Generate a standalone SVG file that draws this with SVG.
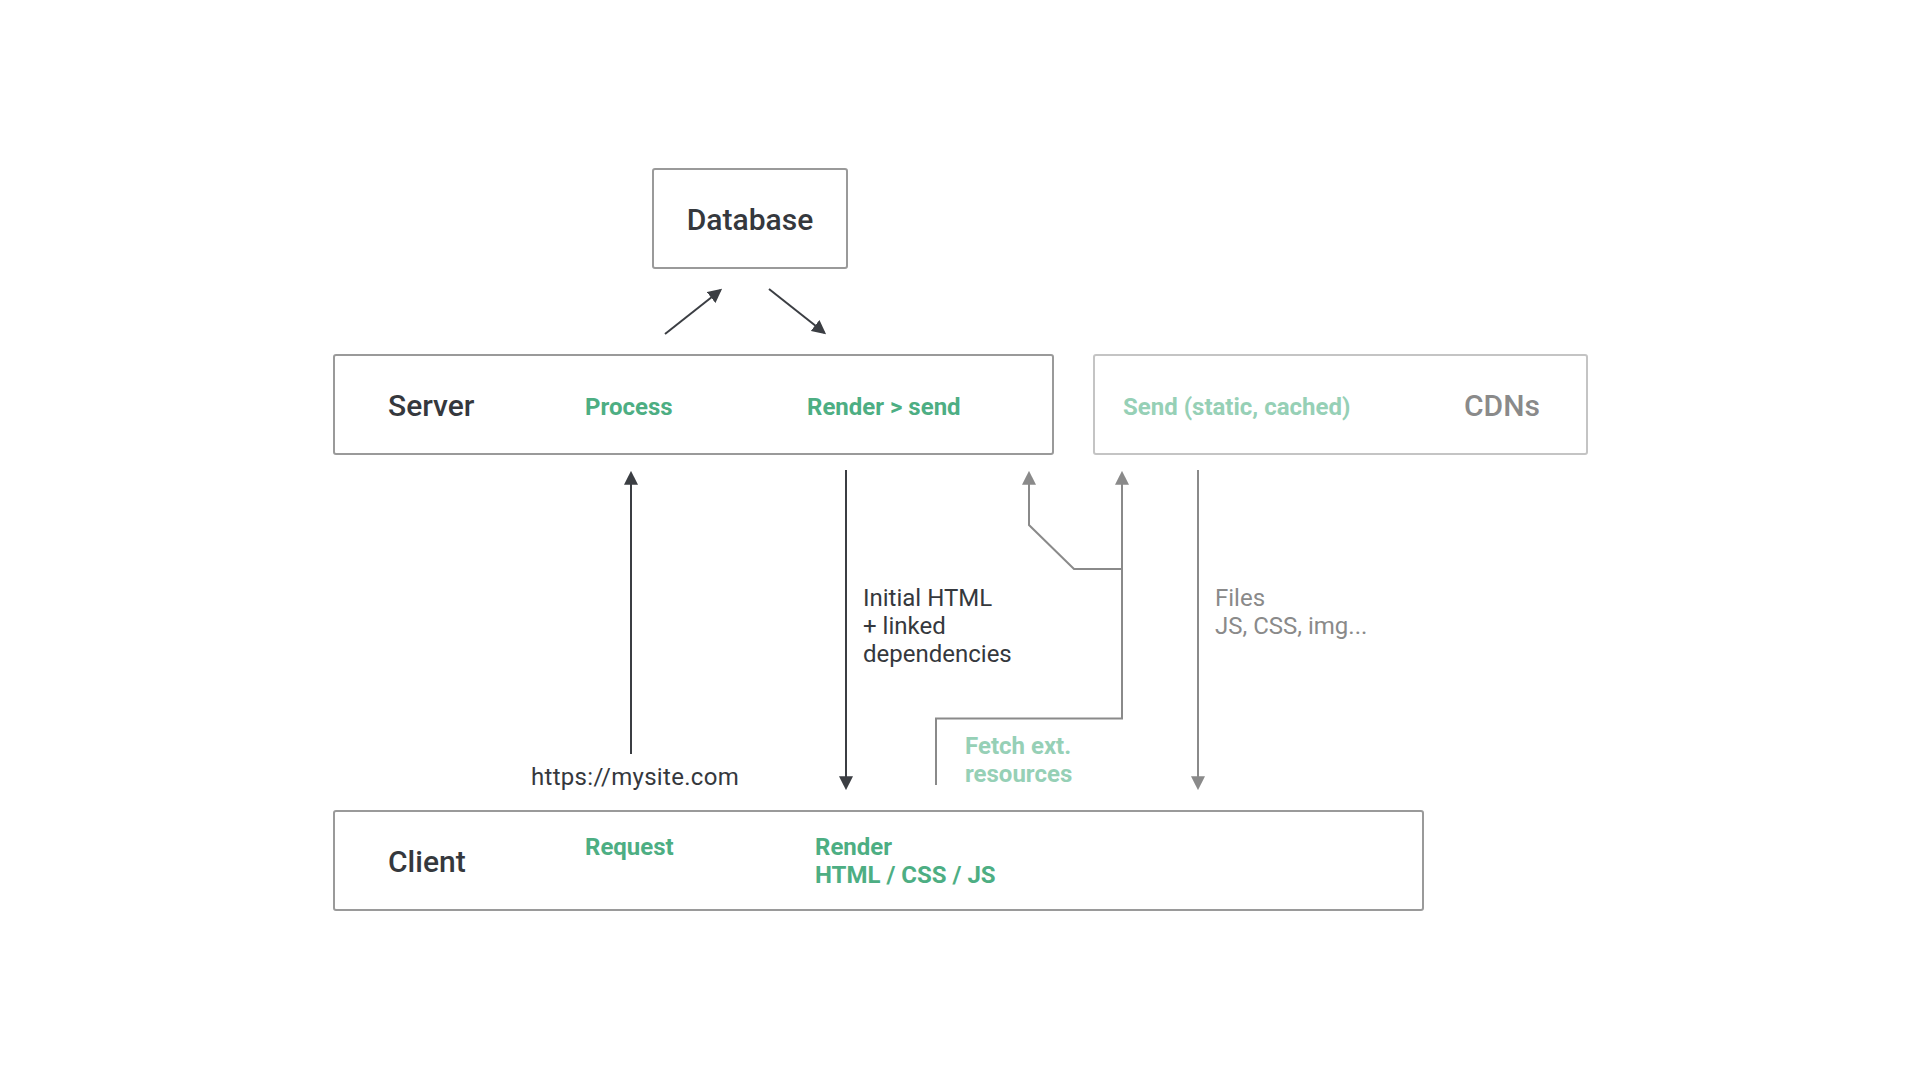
<svg xmlns="http://www.w3.org/2000/svg" width="1920" height="1080" viewBox="0 0 1920 1080">
<style>
.box{fill:#fff;stroke:#9a9a9a;stroke-width:2}
.box-light{fill:#fff;stroke:#c4c4c4;stroke-width:2}
.title{font-family:Roboto,"Liberation Sans",sans-serif;font-size:30px;font-weight:500;fill:#35383d}
.title-gray{font-family:Roboto,"Liberation Sans",sans-serif;font-size:30px;font-weight:500;fill:#8a8a8a}
.step{font-family:Roboto,"Liberation Sans",sans-serif;font-size:24px;font-weight:700;fill:#4dae83}
.step-light{font-family:Roboto,"Liberation Sans",sans-serif;font-size:24px;font-weight:700;fill:#96d0b6}
.label{font-family:Roboto,"Liberation Sans",sans-serif;font-size:24px;font-weight:400;fill:#35383d}
.label-gray{font-family:Roboto,"Liberation Sans",sans-serif;font-size:24px;font-weight:400;fill:#8a8a8a}
.dark{fill:none;stroke:#3b3e43;stroke-width:2}
.gray{fill:none;stroke:#8a8a8a;stroke-width:2}
</style>
<defs>
<marker id="ah-dark" markerUnits="userSpaceOnUse" markerWidth="14" markerHeight="14" viewBox="0 0 13 13" refX="11" refY="6.5" orient="auto">
<path d="M0,0 L13,6.5 L0,13 z" fill="#3b3e43"/>
</marker>
<marker id="ah-gray" markerUnits="userSpaceOnUse" markerWidth="14" markerHeight="14" viewBox="0 0 13 13" refX="11" refY="6.5" orient="auto">
<path d="M0,0 L13,6.5 L0,13 z" fill="#8a8a8a"/>
</marker>
</defs>
<rect width="1920" height="1080" fill="#fff"/>
<g id="connectors">
<line class="dark" x1="665" y1="334" x2="720.4" y2="290.2" marker-end="url(#ah-dark)"/>
<line class="dark" x1="769" y1="289" x2="824.4" y2="332.8" marker-end="url(#ah-dark)"/>
<line class="dark" x1="631" y1="754" x2="631" y2="473" marker-end="url(#ah-dark)"/>
<line class="dark" x1="846" y1="470" x2="846" y2="788" marker-end="url(#ah-dark)"/>
<path class="gray" d="M1122,569 H1074 L1029,525 V473" marker-end="url(#ah-gray)"/>
<path class="gray" d="M936,785 V718.5 H1122 V473" marker-end="url(#ah-gray)"/>
<line class="gray" x1="1198" y1="470" x2="1198" y2="788" marker-end="url(#ah-gray)"/>
<text class="label" x="531" y="785" letter-spacing="0.3">https://mysite.com</text>
<text class="label" x="863" y="606">Initial HTML</text>
<text class="label" x="863" y="634">+ linked</text>
<text class="label" x="863" y="662">dependencies</text>
<text class="label-gray" x="1215" y="606">Files</text>
<text class="label-gray" x="1215" y="634">JS, CSS, img...</text>
<text class="step-light" x="965" y="754">Fetch ext.</text>
<text class="step-light" x="965" y="782">resources</text>
</g>
<g id="database">
<rect class="box" x="653" y="169" width="194" height="99" rx="2"/>
<text class="title" x="750" y="230" text-anchor="middle">Database</text>
</g>
<g id="server">
<rect class="box" x="334" y="355" width="719" height="99" rx="2"/>
<text class="title" x="388" y="416">Server</text>
<text class="step" x="585" y="415">Process</text>
<text class="step" x="807" y="415">Render &gt; send</text>
</g>
<g id="cdns">
<rect class="box-light" x="1094" y="355" width="493" height="99" rx="2"/>
<text class="step-light" x="1123" y="415">Send (static, cached)</text>
<text class="title-gray" x="1464" y="416">CDNs</text>
</g>
<g id="client">
<rect class="box" x="334" y="811" width="1089" height="99" rx="2"/>
<text class="title" x="388" y="872">Client</text>
<text class="step" x="585" y="855">Request</text>
<text class="step" x="815" y="855">Render</text>
<text class="step" x="815" y="883">HTML / CSS / JS</text>
</g>
</svg>
